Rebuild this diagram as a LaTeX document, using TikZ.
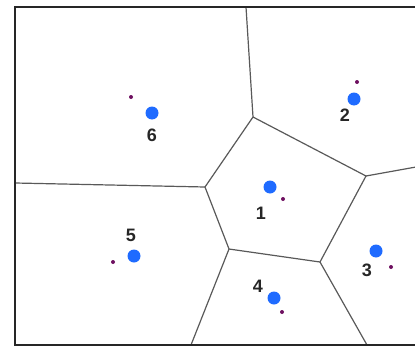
\documentclass[tikz,border=0pt]{standalone}
\usepackage{fontspec}
\setmainfont{Liberation Sans}
\begin{document}
\begin{tikzpicture}[x=1pt,y=-1pt,
  edge/.style={draw=black!65,line width=1.2pt},
  frame/.style={draw=black!85,line width=1.6pt},
  site/.style={circle,fill=sitecol,inner sep=0pt,minimum size=13pt},
  seed/.style={circle,fill=seedcol,inner sep=0pt,minimum size=4pt},
  lab/.style={font=\fontsize{18}{18}\selectfont\bfseries,text=black!85,inner sep=0pt}]
\definecolor{sitecol}{HTML}{1F6BFF}
\definecolor{seedcol}{HTML}{6E1060}
\useasboundingbox (0,0) rectangle (415,348);
% frame
\coordinate (tl) at (15,7);
\coordinate (bl) at (15,345);
\coordinate (tr) at (416,7);
\coordinate (br) at (416,345);
% vertices
\coordinate (T) at (246,7);
\coordinate (A) at (253,117);
\coordinate (B) at (205,187);
\coordinate (L) at (15,183);
\coordinate (C) at (366,176);
\coordinate (R) at (416,167);
\coordinate (D) at (229,249);
\coordinate (E) at (320,262);
\coordinate (BD) at (191,345);
\coordinate (BE) at (367,345);
\draw[edge] (T) -- (A) -- (C) -- (E) -- (D) -- (B) -- (A);
\draw[edge] (B) -- (L);
\draw[edge] (C) -- (R);
\draw[edge] (D) -- (BD);
\draw[edge] (E) -- (BE);
\draw[frame] (tr) -- (tl) -- (bl) -- (br);
% sites
\node[site] (s1) at (270,187) {};
\node[site] (s2) at (354,99) {};
\node[site] (s3) at (376,251) {};
\node[site] (s4) at (274,298) {};
\node[site] (s5) at (134,256) {};
\node[site] (s6) at (152,113) {};
% seeds
\node[seed] (p1) at (283,199) {};
\node[seed] (p2) at (357,82) {};
\node[seed] (p3) at (391,267) {};
\node[seed] (p4) at (282,312) {};
\node[seed] (p5) at (113,262) {};
\node[seed] (p6) at (131,97) {};
% labels
\node[lab] (l1) at (261,213) {1};
\node[lab] (l2) at (345,115) {2};
\node[lab] (l3) at (367,270) {3};
\node[lab] (l4) at (258,286) {4};
\node[lab] (l5) at (131,235) {5};
\node[lab] (l6) at (152,135) {6};
\end{tikzpicture}
\end{document}
